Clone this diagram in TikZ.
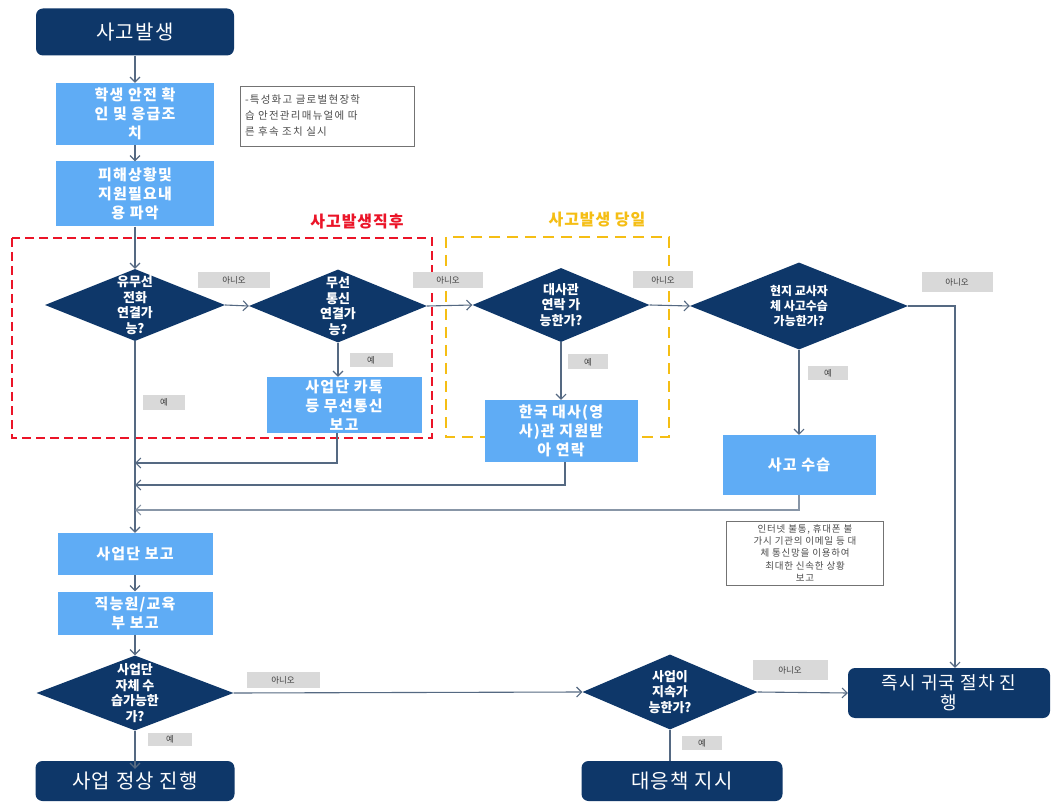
\documentclass[tikz,border=0pt]{standalone}
\usepackage{fontspec}
\setmainfont{Noto Sans CJK KR}
\usetikzlibrary{shapes.geometric, arrows.meta, positioning, calc}
\definecolor{navy1}{RGB}{14, 55, 105}
\definecolor{skyblue1}{RGB}{95, 172, 245}
\definecolor{linegray}{RGB}{85, 105, 130}
\definecolor{labelgray}{RGB}{217, 217, 217}
\definecolor{redline}{RGB}{235, 20, 40}
\definecolor{goldline}{RGB}{245, 190, 20}

\begin{document}
\begin{tikzpicture}[x=1pt, y=-1pt,
  navybox/.style={fill=navy1, rounded corners=7pt, text=white, align=center, inner sep=0pt, font=\fontsize{20}{22}\selectfont\addfontfeature{LetterSpace=6}},
  skybox/.style={fill=skyblue1, text=white, align=center, inner sep=0pt, font=\bfseries\fontsize{15}{19}\selectfont\addfontfeature{LetterSpace=8}},
  decision/.style={diamond, fill=navy1, inner sep=0pt},
  decisiontext/.style={text=white, align=center, inner sep=0pt, font=\bfseries\fontsize{13}{15.5}\selectfont},
  tag/.style={fill=labelgray, text=black!75, inner sep=0pt, font=\fontsize{8.5}{9}\selectfont},
  memo/.style={draw=black!55, fill=white, text=black!70, inner sep=0pt},
  flow/.style={draw=linegray, line width=1.1pt, -{Straight Barb[length=5pt,width=10pt]}},
  plainflow/.style={draw=linegray, line width=1.1pt},
]
\useasboundingbox[fill=white] (0,0) rectangle (1058,802);

% frames
\draw[redline, line width=2.2pt, dash pattern=on 9pt off 5pt] (12,238) rectangle (432,438);
\draw[goldline, line width=2pt, dash pattern=on 11pt off 7pt] (446,237) rectangle (669,437);
\node[text=redline, font=\bfseries\fontsize{16}{18}\selectfont\addfontfeature{LetterSpace=6}] (redtitle) at (357,222) {사고발생직후};
\node[text=goldline, font=\bfseries\fontsize{16}{18}\selectfont\addfontfeature{LetterSpace=6}] (goldtitle) at (597,220) {사고발생 당일};

% left column
\node[navybox, minimum width=198pt, minimum height=47pt] (start) at (135,32) {사고발생};
\node[skybox, minimum width=158pt, minimum height=62pt] (safety) at (135,114) {학생 안전 확\\인 및 응급조\\치};
\node[skybox, minimum width=158pt, minimum height=65pt] (damage) at (135,194) {피해상황및\\지원필요내\\용 파악};
\node[memo, minimum width=174pt, minimum height=60pt, align=left, text width=164pt, font=\fontsize{10.5}{16}\selectfont\addfontfeature{LetterSpace=12}] (memoA) at (327,116) {-특성화고 글로벌현장학\\습 안전관리매뉴얼에 따\\른 후속 조치 실시};

% decisions
\node[decision, minimum width=180pt, minimum height=72pt] (phone) at (135,305) {};
\node[decisiontext] (phonetxt) at (phone.center) {유무선\\전화\\연결가\\능?};
\node[decision, minimum width=178pt, minimum height=73pt] (wireless) at (338,306) {};
\node[decisiontext] (wirelesstxt) at (wireless.center) {무선\\통신\\연결가\\능?};
\node[decision, minimum width=177pt, minimum height=74pt] (embassyq) at (561,305) {};
\node[decisiontext] (embassyqtxt) at (embassyq.center) {대사관\\연락 가\\능한가?};
\node[decision, minimum width=218pt, minimum height=87pt] (localq) at (799,306) {};
\node[decisiontext, font=\bfseries\fontsize{12}{15}\selectfont] (localqtxt) at (localq.center) {현지 교사자\\체 사고수습\\가능한가?};

\node[skybox, minimum width=155pt, minimum height=56pt] (kakao) at (344,405) {사업단 카톡\\등 무선통신\\보고};
\node[skybox, minimum width=153pt, minimum height=62pt] (embassy) at (561,431) {한국 대사(영\\사)관 지원받\\아 연락};
\node[skybox, minimum width=153pt, minimum height=60pt] (recover) at (799,465) {사고 수습};
\node[memo, minimum width=157pt, minimum height=64pt, align=center, font=\fontsize{9.5}{12.3}\selectfont\addfontfeature{LetterSpace=8}] (memoB) at (805,553) {인터넷 불통, 휴대폰 불\\가시 기관의 이메일 등 대\\체 통신망을 이용하여\\최대한 신속한 상황\\보고};

\node[skybox, minimum width=155pt, minimum height=42pt] (report) at (135,554) {사업단 보고};
\node[skybox, minimum width=155pt, minimum height=43pt] (ministry) at (135,613) {직능원/교육\\부 보고};

\node[decision, minimum width=197pt, minimum height=75pt] (selfq) at (135,693) {};
\node[decisiontext] (selfqtxt) at (selfq.center) {사업단\\자체 수\\습가능한\\가?};
\node[navybox, minimum width=199pt, minimum height=40pt] (normal) at (135,781) {사업 정상 진행};

\node[decision, minimum width=175pt, minimum height=75pt] (continueq) at (670,692) {};
\node[decisiontext] (continueqtxt) at (continueq.center) {사업이\\지속가\\능한가?};
\node[navybox, minimum width=201pt, minimum height=40pt] (measure) at (682,781) {대응책 지시};
\node[navybox, minimum width=202pt, minimum height=50pt, font=\fontsize{18}{20}\selectfont\addfontfeature{LetterSpace=6}] (return) at (949,693) {즉시 귀국 절차 진\\행};

% answer tags
\node[tag, minimum width=72pt, minimum height=16pt] (noA) at (234,280) {아니오};
\node[tag, minimum width=70pt, minimum height=16pt] (noB) at (448,280) {아니오};
\node[tag, minimum width=60pt, minimum height=17pt] (noC) at (663,280) {아니오};
\node[tag, minimum width=71pt, minimum height=20pt] (noD) at (957,282) {아니오};
\node[tag, minimum width=73pt, minimum height=16pt] (noE) at (283,680) {아니오};
\node[tag, minimum width=75pt, minimum height=20pt] (noF) at (790,670) {아니오};
\node[tag, minimum width=42pt, minimum height=15pt] (yesA) at (164,402) {예};
\node[tag, minimum width=43pt, minimum height=14pt] (yesB) at (371,360) {예};
\node[tag, minimum width=40pt, minimum height=15pt] (yesC) at (588,362) {예};
\node[tag, minimum width=40pt, minimum height=14pt] (yesD) at (828,373) {예};
\node[tag, minimum width=44pt, minimum height=13pt] (yesE) at (170,739) {예};
\node[tag, minimum width=40pt, minimum height=14pt] (yesF) at (702,743) {예};

% join points on the trunk
\coordinate (joinA) at (135,463);
\coordinate (joinB) at (135,485);
\coordinate (joinC) at (135,510);

% connectors
\draw[flow] (start) -- (safety);
\draw[flow] (safety) -- (damage);
\draw[flow] (damage.south) -- (phone.north);
\draw[flow] (phone.east) -- (wireless.west);
\draw[flow] (wireless.east) -- (embassyq.west);
\draw[flow] (embassyq.east) -- (localq.west);
\draw[flow] (localq.east) -| ([xshift=6pt]return.north);
\draw[flow] (phone.south) -- (report.north);
\draw[flow] (wireless.south) -- (wireless.south |- kakao.north);
\draw[flow] (embassyq.south) -- (embassy.north);
\draw[flow] (localq.south) -- (recover.north);
\draw[flow] ([xshift=-7pt]kakao.south) |- (joinA);
\draw[flow] ([xshift=4pt]embassy.south) |- (joinB);
\draw[flow, draw=linegray!70] (recover.south) |- (joinC);
\draw[flow] (report) -- (ministry);
\draw[flow] (ministry.south) -- (selfq.north);
\draw[flow] (selfq.south) -- ([yshift=-8pt]normal.north);
\draw[flow] (selfq.east) -- (continueq.west);
\draw[flow] (continueq.east) -- (return.west);
\draw[plainflow] (continueq.south) -- (continueq.south |- measure.north);
\end{tikzpicture}
\end{document}
